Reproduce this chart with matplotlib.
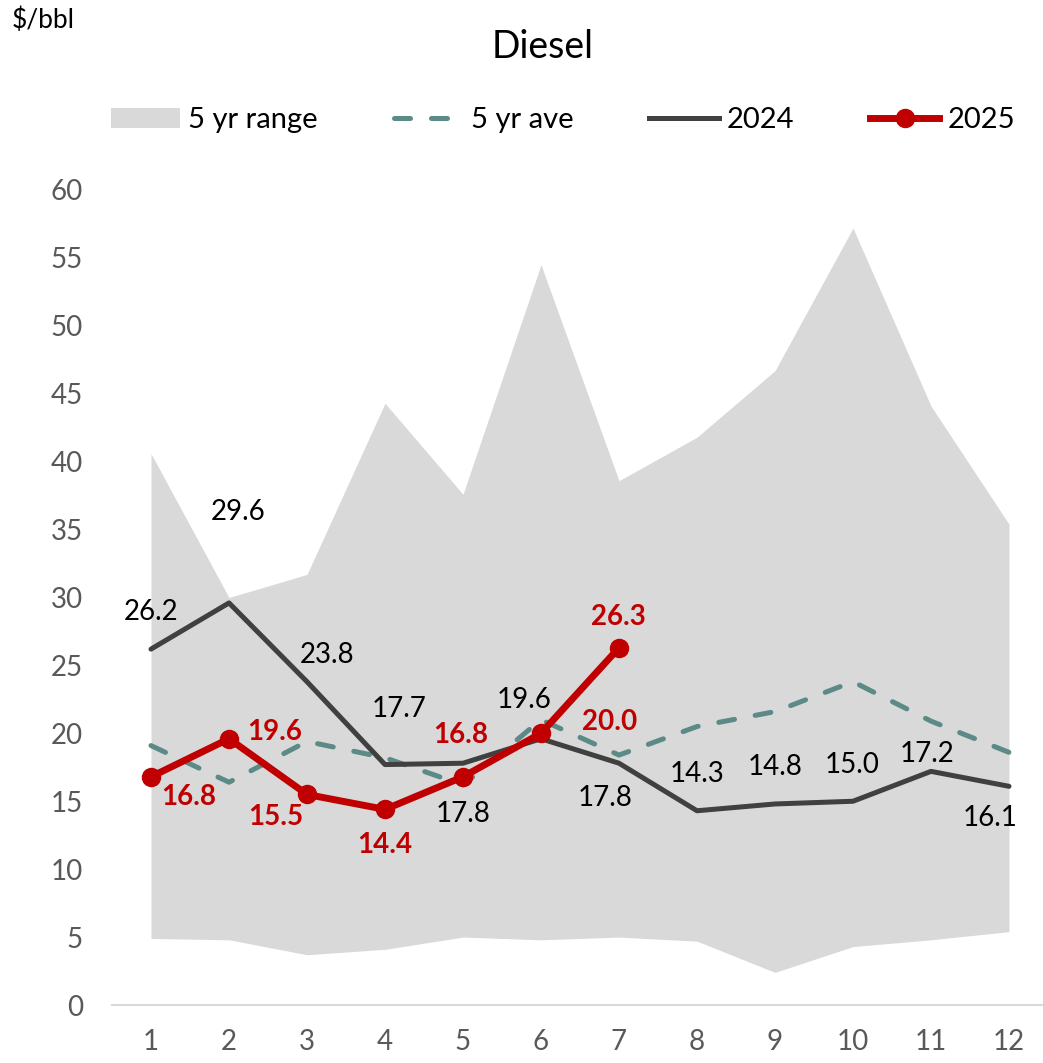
import matplotlib
matplotlib.use("Agg")
import matplotlib.pyplot as plt
from matplotlib.patches import Patch
from matplotlib.lines import Line2D

plt.rcParams['font.family'] = ['Lato', 'DejaVu Sans']

months = [1, 2, 3, 4, 5, 6, 7, 8, 9, 10, 11, 12]
range_hi = [40.6, 30.0, 31.7, 44.3, 37.6, 54.5, 38.6, 41.8, 46.7, 57.2, 44.1, 35.4]
range_lo = [4.9, 4.8, 3.7, 4.1, 5.0, 4.8, 5.0, 4.7, 2.4, 4.3, 4.8, 5.4]
avg5 = [19.1, 16.4, 19.4, 18.2, 16.2, 21.0, 18.4, 20.5, 21.6, 23.8, 20.9, 18.6]
y2024 = [26.2, 29.6, 23.8, 17.7, 17.8, 19.6, 17.8, 14.3, 14.8, 15.0, 17.2, 16.1]
y2025 = [16.8, 19.6, 15.5, 14.4, 16.8, 20.0, 26.3]

# label offsets in pixels (dx, dy; dy down)
off2024 = [(0, -37), (9, -91), (20, -27), (14, -56), (0, 51), (-17, -39),
           (-14, 35), (0, -37), (0, -37), (-1, -36), (-4, -17), (-19, 32)]
off2025 = [(38, 20), (46, -7), (-31, 23), (0, 36), (-2, -42), (69, -11), (-1, -31)]

c_range = '#D9D9D9'
c_avg = '#5B8A87'
c_2024 = '#404040'
c_2025 = '#C00000'

fig = plt.figure(figsize=(10.43, 10.63), dpi=100)
ax = fig.add_axes([112 / 1043, 58 / 1063, 931 / 1043, 815 / 1063])

ax.fill_between(months, range_lo, range_hi, color=c_range, lw=0, zorder=1)
ax.plot(months, avg5, color=c_avg, lw=3.6, dashes=(3.2, 4.2),
        dash_capstyle='round', zorder=2)
ax.plot(months, y2024, color=c_2024, lw=3.6, solid_capstyle='round', zorder=3)
ax.plot(months[:len(y2025)], y2025, color=c_2025, lw=5, marker='o',
        markersize=13, solid_capstyle='round', zorder=4)

for x, v, (dx, dy) in zip(months, y2024, off2024):
    ax.annotate(f'{v:.1f}', (x, v), xytext=(dx, -dy), textcoords='offset pixels',
                ha='center', va='center', fontsize=20, color='black', zorder=5)
for x, v, (dx, dy) in zip(months, y2025, off2025):
    ax.annotate(f'{v:.1f}', (x, v), xytext=(dx, -dy), textcoords='offset pixels',
                ha='center', va='center', fontsize=20, color=c_2025,
                fontweight='bold', zorder=5)

ax.set_xlim(0.5, 12.436)
ax.set_ylim(0, 60)
ax.set_xticks(months)
ax.set_yticks(range(0, 61, 5))
ax.tick_params(axis='both', length=0, labelsize=20, labelcolor='#595959')
ax.tick_params(axis='y', pad=21)
ax.tick_params(axis='x', pad=17)
for s in ['top', 'right', 'left']:
    ax.spines[s].set_visible(False)
ax.spines['bottom'].set_color('#D9D9D9')
ax.spines['bottom'].set_linewidth(1.5)

fig.text(543 / 1043, 1 - 47 / 1063, 'Diesel', ha='center', va='center', fontsize=27)
fig.text(12 / 1043, 1 - 20 / 1063, '$/bbl', ha='left', va='center', fontsize=19)

handles = [
    Patch(facecolor=c_range, edgecolor='none'),
    Line2D([], [], color=c_avg, lw=3.6, dashes=(3.2, 4.2), dash_capstyle='round'),
    Line2D([], [], color=c_2024, lw=3.6),
    Line2D([], [], color=c_2025, lw=5, marker='o', markersize=13),
]
labels = ['5 yr range', '5 yr ave', '2024', '2025']
fig.legend(handles, labels, loc='center', bbox_to_anchor=(563 / 1043, 1 - 120 / 1063),
           ncol=4, frameon=False, fontsize=21, handlelength=2.37, handletextpad=0.28,
           columnspacing=2.6, markerscale=1.0)

fig.savefig('out.png', dpi=100)
